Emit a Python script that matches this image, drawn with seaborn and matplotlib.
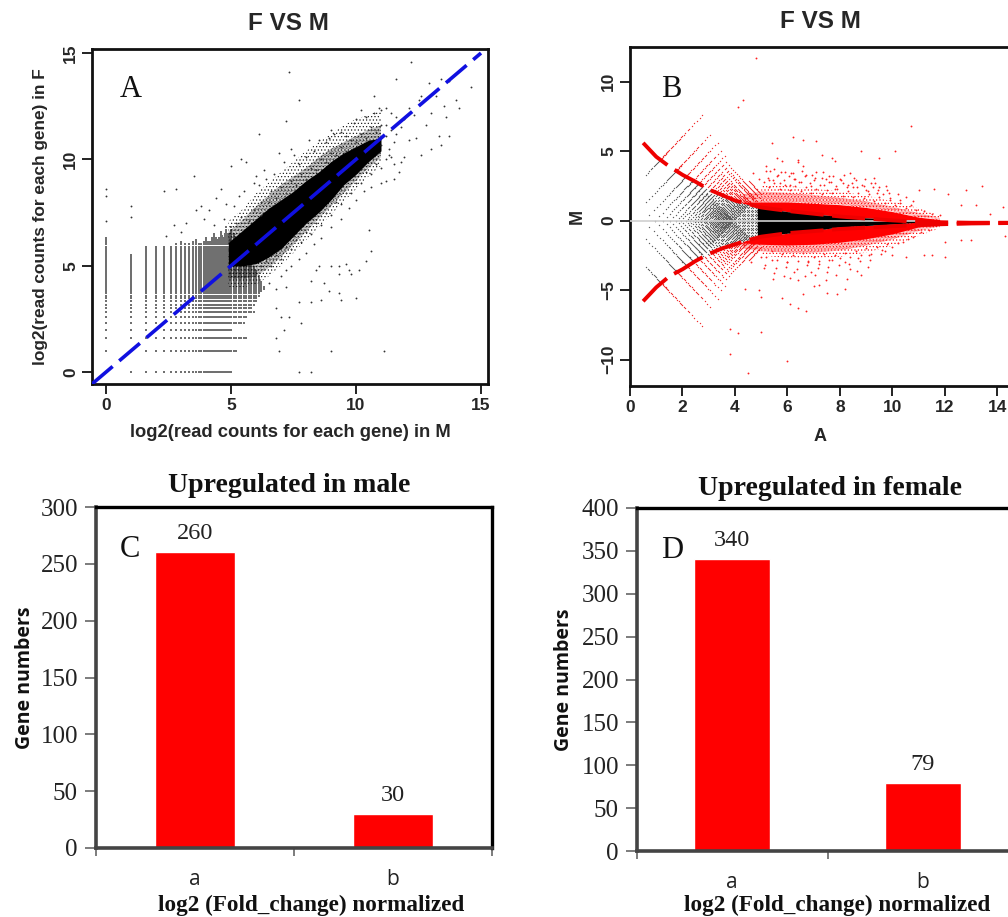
"""Four panel figure: F VS M scatter, MA plot and two gene count bar charts."""

import matplotlib
matplotlib.use("Agg")
import matplotlib.pyplot as plt
import numpy as np
import seaborn as sns

WIDTH, HEIGHT = 1008, 917
SANS = "Liberation Sans"
SERIF = "Liberation Serif"
HUMANIST = "Open Sans"

# Read counts take discrete log2 values at the low end
COUNT_LEVELS = [0, 1, 1.58, 2, 2.32, 2.58, 2.81, 3, 3.17, 3.32, 3.46, 3.58, 3.70, 3.81,
                3.91, 4, 4.09, 4.17, 4.25, 4.32, 4.39, 4.46, 4.52, 4.58, 4.64, 4.70,
                4.75, 4.81, 4.86, 4.91, 4.95, 5]
HIGH_X_LEVELS = [5.1, 5.2, 5.3, 5.4, 5.5, 5.6, 5.7, 5.8, 5.9, 6.0, 6.1, 6.2, 6.3, 6.5]
HIGH_Y_LEVELS = [5.05, 5.13, 5.21, 5.29, 5.36, 5.43, 5.5, 5.57, 5.64, 5.7, 5.77, 5.83,
                 5.9, 6.0, 6.1, 6.2, 6.3, 6.4, 6.5, 6.6, 6.7, 6.8]

# Upper extent of each count column, and right extent of each low count row (panel A)
COLUMN_X = [0, 1, 1.58, 2, 2.32, 2.58, 3, 3.32, 3.58, 3.81, 4, 4.17, 4.32, 4.46, 4.58, 4.7,
            4.81, 4.91, 5, 5.5, 6.0, 6.5]
COLUMN_TOP = [6.3, 5.5, 5.9, 5.9, 5.9, 5.9, 6.1, 6.0, 6.2, 6.0, 6.3, 6.1, 6.5, 6.2, 6.6, 6.3,
              6.8, 6.4, 6.8, 5.6, 4.8, 3.6]
ROW_Y = [0, 1, 1.58, 2, 2.32, 2.58, 2.81, 3, 3.32, 3.58, 4, 4.5, 5, 6.2]
ROW_RIGHT = [5.0, 5.2, 5.6, 5.0, 5.5, 5.6, 5.9, 5.8, 6.0, 6.1, 6.4, 6.5, 6.5, 6.5]

# Panel A dense cloud envelope
CLOUD_X = [4.9, 5.5, 6.0, 6.5, 7.0, 7.5, 8.0, 8.5, 9.0, 9.5, 10.0, 10.5, 11.0]
CLOUD_LOW = [5.0, 5.0, 5.1, 5.4, 5.8, 6.4, 7.0, 7.5, 8.1, 8.8, 9.3, 9.9, 10.4]
CLOUD_HIGH = [6.1, 6.7, 7.2, 7.7, 8.1, 8.5, 9.0, 9.4, 9.9, 10.3, 10.6, 10.9, 11.0]
NEAR_LOW = [4.4, 4.4, 4.5, 4.9, 5.4, 6.0, 6.6, 7.2, 7.8, 8.4, 9.0, 9.6, 10.1]
NEAR_HIGH = [6.6, 7.2, 7.8, 8.3, 8.8, 9.2, 9.6, 10.1, 10.5, 10.8, 11.1, 11.4, 11.6]
FRINGE_LOW = [4.0, 4.0, 4.1, 4.5, 5.0, 5.6, 6.2, 6.8, 7.4, 8.0, 8.6, 9.2, 9.7]
FRINGE_HIGH = [7.1, 7.7, 8.4, 8.9, 9.4, 9.9, 10.4, 10.8, 11.2, 11.6, 11.9, 12.1, 12.3]

# Panel A scattered points
SPARSE_X = [7.3, 12.2, 7.7, 7.2, 11.6, 6.1, 12.6, 12.9, 13.4, 13.7, 14.6, 13.2, 14.0, 13.5,
            13.0, 13.6, 14.1, 5.4, 5.0, 5.6, 3.5, 2.3, 2.8, 0, 0, 1, 1, 0, 8.5, 9.0, 9.3,
            9.6, 9.7, 10.1, 9.3, 9.8, 10.4, 10.6, 10.5, 8.4, 8.2, 8.7, 7.2, 8.9, 9.3, 8.6,
            9.4, 10.0, 7.7, 8.2, 6.8, 7.0, 7.3, 7.8, 7.1, 6.8, 6.9, 9.0, 11.1, 7.7, 8.2,
            4.6, 4.4, 4.8, 3.8, 4.1, 5.3, 5.5, 5.9, 6.1, 6.4, 6.7, 6.9, 7.1, 7.5, 7.7, 8.0,
            8.3, 8.5, 8.8, 8.9, 9.1, 9.4, 9.6, 9.9, 10.0, 10.4, 10.7, 10.9, 10.7, 11.0,
            11.2, 11.4, 11.6, 11.9, 12.1, 12.3, 12.5, 11.2, 11.6, 11.8, 12.1, 12.4, 12.6,
            13.3, 13.0, 12.8, 13.4, 13.7, 5.8, 6.5, 6.8, 7.0, 7.2, 7.4, 7.7, 8.0, 8.3, 8.6,
            9.0, 9.4, 9.7, 10.0, 10.3, 10.6, 11.0, 11.2, 11.5, 11.7, 11.5, 11.8, 11.9, 11.3,
            3.2, 2.7, 3.0, 2.4, 3.6, 3.9, 4.3, 4.7, 5.1, 6.3, 6.0, 7.4, 8.1, 9.0, 10.2]
SPARSE_Y = [14.1, 14.6, 12.8, 11.8, 13.8, 11.2, 13.0, 13.6, 13.8, 13.7, 13.4, 13.0, 12.8,
            12.5, 12.2, 12.0, 12.4, 10.0, 9.7, 9.9, 9.2, 8.5, 8.6, 8.6, 8.3, 7.8, 7.3, 7.1,
            5.0, 5.0, 5.0, 5.1, 4.8, 4.8, 4.6, 4.6, 5.2, 5.7, 6.7, 4.8, 4.3, 4.2, 4.0, 3.8,
            3.7, 3.4, 3.4, 3.5, 3.3, 3.3, 3.0, 2.6, 2.6, 2.3, 2.0, 1.6, 1.0, 1.0, 1.0, 0, 0,
            8.6, 8.2, 7.9, 7.8, 7.6, 8.3, 8.5, 8.9, 8.8, 9.1, 9.3, 10.3, 9.9, 10.2, 9.8,
            10.1, 10.4, 10.9, 10.8, 11.0, 11.2, 11.3, 11.1, 11.7, 11.9, 12.0, 12.2, 12.4,
            13.0, 12.3, 12.4, 12.2, 12.0, 11.9, 12.4, 12.1, 12.8, 11.6, 11.2, 11.5, 10.9,
            11.0, 10.2, 11.1, 10.5, 11.6, 10.7, 11.1, 4.5, 4.2, 3.9, 4.5, 4.8, 5.0, 5.3, 5.6,
            6.0, 6.3, 6.8, 7.2, 7.7, 8.1, 8.5, 8.7, 8.9, 9.0, 9.1, 9.4, 9.8, 9.9, 10.1, 10.2,
            7.0, 6.9, 6.6, 6.4, 7.6, 7.2, 6.9, 7.2, 7.8, 9.5, 9.2, 10.5, 10.9, 11.4, 12.3]
EDGE_X = [5.2, 5.4, 5.7, 5.9, 6.2, 6.2, 6.5, 6.6, 6.8, 7.0, 7.2, 7.4, 7.6, 7.8, 8.0, 8.2, 8.4,
          8.6, 8.8, 9.0, 9.2, 9.4, 9.6, 9.8, 10.0, 10.2, 10.4, 10.6, 10.8, 11.0, 11.2, 11.4,
          11.0, 11.3, 11.5, 6.2, 6.4, 6.6, 6.8, 7.0, 7.2, 7.4, 7.6, 7.8, 8.0, 8.2, 8.4, 8.6,
          8.8, 9.0, 9.2, 9.4, 9.6, 9.8, 10.0, 10.2, 10.4, 10.6, 10.8, 11.0, 11.2, 11.4]
EDGE_Y = [7.0, 7.3, 7.1, 7.6, 7.4, 8.0, 8.0, 8.5, 8.2, 8.7, 8.4, 9.0, 8.8, 9.3, 9.1, 9.6, 9.5,
          10.0, 9.9, 10.3, 10.2, 10.6, 10.4, 10.9, 10.8, 11.2, 11.0, 11.5, 11.3, 11.6, 11.1,
          11.4, 10.7, 10.5, 10.8, 5.0, 5.2, 5.0, 5.5, 5.3, 5.9, 5.8, 6.2, 6.1, 6.6, 6.5, 7.0,
          6.9, 7.5, 7.4, 8.0, 7.9, 8.4, 8.4, 8.9, 8.9, 9.4, 9.3, 9.8, 9.6, 10.0, 10.1]

# Panel A reference line
DIAGONAL = [-0.56, 15.0]

# Panel B fitted curves
CURVE_A = [0.5, 1, 1.5, 2, 2.5, 3, 3.5, 4, 4.5, 5, 6, 7, 8, 9, 10, 11, 12, 13, 14, 15.2]
CURVE_UP = [5.6, 4.6, 3.9, 3.3, 2.8, 2.25, 1.85, 1.45, 1.2, 0.95, 0.7, 0.5, 0.3, 0.15,
            0.02, -0.08, -0.12, -0.15, -0.15, -0.15]
CURVE_DOWN = [-5.8, -4.8, -4.0, -3.5, -2.9, -2.4, -2.0, -1.7, -1.4, -1.15, -0.9, -0.75,
              -0.6, -0.5, -0.4, -0.3, -0.25, -0.2, -0.18, -0.15]
COUNT_OFFSET = -1.05
HIGH_COUNT_LEVELS = [6.6, 6.8, 7.0, 7.2, 7.4, 7.6, 7.8, 8.0, 8.2, 8.4, 8.6, 8.8, 9.0]
# Outer reach of the diagonal count lines in panel B
REACH_A = [0.5, 2.7, 3.2, 3.7, 4.0, 4.5, 5.0]
REACH_M = [8.0, 7.8, 6.2, 4.4, 3.7, 2.9, 2.2]

# Panel B dense bands
CORE_A = [4.85, 5.5, 6.0, 7.0, 8.0, 9.0, 10.0, 11.0]
CORE_UP = [1.0, 0.8, 0.65, 0.48, 0.3, 0.2, 0.1, 0.0]
CORE_DOWN = [-1.1, -1.0, -0.9, -0.7, -0.45, -0.35, -0.25, -0.1]
RED_A = [4.3, 5.0, 6.0, 7.0, 8.0, 9.0, 10.0, 11.0, 11.8]
RED_INNER_UP = [1.25, 0.95, 0.65, 0.48, 0.3, 0.2, 0.1, 0.0, -0.05]
RED_INNER_DOWN = [-1.5, -1.15, -0.9, -0.7, -0.45, -0.35, -0.25, -0.1, -0.12]
RED_UP = [1.35, 1.35, 1.35, 1.25, 1.15, 0.95, 0.65, 0.25, 0.08]
RED_DOWN = [-1.6, -1.7, -1.75, -1.7, -1.55, -1.3, -0.95, -0.45, -0.3]
NEAR_UP = [1.9, 2.1, 2.0, 1.85, 1.65, 1.4, 1.0, 0.55, 0.2]
NEAR_DOWN = [-2.0, -2.2, -2.3, -2.3, -2.15, -1.8, -1.35, -0.75, -0.4]
HALO_UP = [2.5, 2.6, 2.5, 2.3, 2.1, 1.8, 1.4, 0.9, 0.35]
HALO_DOWN = [-2.4, -2.5, -2.7, -2.7, -2.6, -2.3, -1.8, -1.1, -0.55]

# Panel B scattered points
RED_SPARSE_A = [4.8, 4.3, 4.1, 6.0, 3.8, 4.5, 5.0, 3.8, 4.1, 10.7, 6.2, 6.6, 7.1, 5.4, 8.8,
                10.1, 9.5, 7.3, 7.7, 7.8, 6.4, 5.6, 6.4, 5.8, 13.4, 12.8, 12.1, 11.6, 11.0,
                12.6, 13.2, 14.2, 13.7, 14.5, 14.6, 14.3, 13.0, 12.6, 12.0, 12.0, 11.5, 11.2,
                10.5, 10.0, 8.4, 8.8, 7.5, 6.9, 7.2, 7.0, 6.7, 6.4, 6.1, 6.6, 7.5, 7.9, 8.2,
                5.0, 5.8, 4.9, 4.4, 5.5, 6.1, 6.4, 5.2, 5.6, 5.9, 6.3, 6.7, 7.0, 7.3, 7.6,
                8.0, 8.3, 8.6, 8.9, 9.2, 9.5, 9.8, 10.2, 10.5, 10.8, 5.3, 5.7, 6.1, 6.5, 6.9,
                7.4, 7.8, 8.1, 8.5, 9.0, 9.4, 9.9, 10.3, 5.0, 5.4, 6.0, 6.8, 7.2, 7.7, 8.2,
                8.7, 9.1, 9.7, 4.7, 4.9, 5.2, 5.5, 6.2, 6.6, 7.1, 7.6, 8.4, 9.3, 4.6, 5.1]
RED_SPARSE_M = [11.7, 8.7, 8.2, -10.1, -9.6, -11.0, -8.0, -7.8, -8.1, 6.8, 6.0, 5.8, 5.7, 5.6,
                5.0, 5.0, 4.5, 4.7, 4.5, 4.3, 4.4, 4.5, 4.2, 4.3, 2.5, 2.2, 1.9, 2.3, 2.2,
                1.1, 1.1, 1.0, 0.5, 0.6, -1.0, -1.1, -1.4, -1.4, -1.5, -2.6, -2.5, -2.5, -2.6,
                -2.5, -3.5, -3.9, -3.7, -3.7, -4.6, -4.7, -6.5, -6.3, -6.0, -5.3, -5.2, -5.3,
                -4.9, -5.5, -5.6, -5.0, -4.9, -3.8, -4.1, -4.3, 3.6, 3.2, 3.5, 3.0, 3.3, 2.9,
                3.1, 2.8, 3.0, 2.6, 2.9, 2.5, 2.7, 2.4, 2.2, 1.9, 1.7, 1.4, 2.9, 2.7, 2.6,
                2.8, 2.5, 2.6, 2.3, 2.7, 2.4, 2.2, 2.0, 1.6, 1.5, -2.6, -2.8, -3.0, -2.9, -3.1,
                -2.8, -3.0, -2.7, -2.5, -2.2, 3.4, 3.0, 3.9, 3.7, 3.4, 3.9, 3.5, 3.2, 3.4, 3.1,
                -3.0, -3.4]
RED_EDGE_A = [5.1, 5.3, 5.5, 5.7, 5.9, 6.1, 6.3, 6.5, 6.7, 6.9, 7.1, 7.3, 7.5, 7.7, 7.9, 8.1,
              8.3, 8.5, 8.7, 8.9, 9.1, 9.3, 9.5, 9.7, 9.9, 10.1, 10.3, 10.5, 10.7, 10.9, 11.2,
              11.5, 11.8, 5.2, 5.4, 5.6, 5.8, 6.0, 6.2, 6.4, 6.6, 6.8, 7.0, 7.2, 7.4, 7.6, 7.8,
              8.0, 8.2, 8.4, 8.6, 8.8, 9.0, 9.2, 9.4, 9.6, 9.8, 10.0, 10.2, 10.4, 10.6, 10.8,
              11.1, 11.4]
RED_EDGE_M = [2.8, 2.4, 2.7, 2.3, 2.6, 2.2, 2.5, 2.1, 2.4, 2.0, 2.3, 1.9, 2.2, 2.0, 2.3, 1.8,
              2.1, 1.7, 2.0, 1.6, 1.9, 1.4, 1.7, 1.3, 1.5, 1.1, 1.3, 0.9, 1.1, 0.8, 0.7, 0.5,
              0.4, -2.6, -2.2, -2.8, -2.4, -3.0, -2.5, -2.9, -2.3, -3.0, -2.6, -2.9, -2.4, -2.8,
              -2.5, -2.7, -2.3, -2.6, -2.2, -2.5, -2.0, -2.4, -1.9, -2.1, -1.7, -1.9, -1.6,
              -1.5, -1.3, -1.2, -0.8, -0.7]
RED_MID_A = [5.25, 5.45, 5.65, 5.85, 6.05, 6.25, 6.45, 6.65, 6.85, 7.05, 7.25, 7.45, 7.65, 7.85,
             8.05, 8.25, 8.45, 8.65, 8.85, 9.05, 9.25, 9.45, 9.65, 9.85, 5.35, 5.75, 6.15, 6.55,
             6.95, 7.35, 7.75, 8.15, 8.55, 8.95, 9.35, 9.75, 5.15, 5.55, 5.95, 6.35, 6.75, 7.15,
             7.55, 7.95, 8.35, 8.75, 9.15, 9.55, 5.45, 5.85, 6.25, 6.65, 7.05, 7.45, 7.85, 8.25,
             8.65, 9.05]
RED_MID_M = [3.1, 2.9, 3.3, 2.9, 3.2, 3.0, 2.8, 3.2, 2.7, 3.1, 2.6, 3.0, 2.8, 2.5, 2.9, 2.4,
             2.7, 2.4, 2.6, 2.1, 2.4, 2.2, 1.9, 2.0, 3.6, 3.5, 3.4, 3.6, 3.3, 3.5, 3.2, 3.3,
             3.1, 3.0, 2.7, 2.5, -3.2, -3.4, -3.3, -3.5, -3.2, -3.4, -3.3, -3.2, -3.1, -2.9,
             -2.8, -2.4, -4.2, -4.0, -3.7, -4.0, -3.9, -4.3, -3.9, -4.2, -3.6, -3.3]

# Bar panels
BAR_CATEGORIES = ["a", "b"]
MALE_COUNTS = [260, 30]
FEMALE_COUNTS = [340, 79]
MALE_TICKS = [0, 50, 100, 150, 200, 250, 300]
FEMALE_TICKS = [0, 50, 100, 150, 200, 250, 300, 350, 400]


def px_axes(fig, left, top, right, bottom):
    """Add an axes placed by its pixel edges, measured from the top left of the image."""
    return fig.add_axes([left / WIDTH, 1 - bottom / HEIGHT,
                         (right - left) / WIDTH, (bottom - top) / HEIGHT])


def style_r_axes(ax):
    """Heavy R style frame with bold rotated tick labels."""
    for spine in ax.spines.values():
        spine.set_linewidth(2.0)
        spine.set_color("#111111")
    ax.tick_params(axis="both", length=7, width=1.4, labelsize=12.5, pad=3, color="#222222")
    for label in ax.get_xticklabels() + ax.get_yticklabels():
        label.set_fontfamily(SANS)
        label.set_fontweight("bold")
    for label in ax.get_yticklabels():
        label.set_rotation(90)
        label.set_verticalalignment("center")


def panel_a(fig):
    ax = px_axes(fig, 92, 49, 488, 384)

    # Lattice of low counts
    xs, ys = [], []
    for x in COUNT_LEVELS + HIGH_X_LEVELS:
        for y in COUNT_LEVELS + HIGH_Y_LEVELS:
            if y <= np.interp(x, COLUMN_X, COLUMN_TOP) and x <= np.interp(y, ROW_Y, ROW_RIGHT):
                if x <= y + 3.2 or y <= 3:
                    xs.append(x)
                    ys.append(y)
    sns.scatterplot(x=xs, y=ys, ax=ax, color="#707070", s=0.8, linewidth=0, marker="s", zorder=2)

    ax.fill_between(CLOUD_X, FRINGE_LOW, FRINGE_HIGH, facecolor="none", edgecolor="#111111",
                    hatch=".....", linewidth=0, zorder=2)
    ax.fill_between(CLOUD_X, NEAR_LOW, NEAR_HIGH, facecolor="none", edgecolor="black",
                    hatch="............", linewidth=0, zorder=2)
    ax.fill_between(CLOUD_X, CLOUD_LOW, CLOUD_HIGH, color="black", linewidth=0, zorder=3)
    sns.scatterplot(x=SPARSE_X, y=SPARSE_Y, ax=ax, color="#333333", s=1.8, linewidth=0, zorder=3)
    sns.scatterplot(x=EDGE_X, y=EDGE_Y, ax=ax, color="#333333", s=1.8, linewidth=0, zorder=3)
    sns.lineplot(x=DIAGONAL, y=DIAGONAL, ax=ax, color="#1010e0", linewidth=2.6, zorder=4,
                 dashes=(7.5, 2.4), estimator=None, sort=False)

    ax.set_xlim(-0.56, 15.28)
    ax.set_ylim(-0.56, 15.19)
    ax.set_xticks([0, 5, 10, 15])
    ax.set_yticks([0, 5, 10, 15])
    style_r_axes(ax)

    ax.set_title("F VS M", fontfamily=SANS, fontweight="bold", fontsize=17.5, x=0.497, y=1.032)
    ax.set_xlabel("log2(read counts for each gene) in M", fontfamily=SANS, fontweight="bold",
                  fontsize=13.2)
    ax.xaxis.set_label_coords(0.5, -0.12)
    ax.set_ylabel("log2(read counts for each gene) in F", fontfamily=SANS, fontweight="bold",
                  fontsize=12.4)
    ax.yaxis.set_label_coords(-0.11, 0.5)
    ax.text(0.098, 0.88, "A", transform=ax.transAxes, fontfamily=SERIF, fontsize=22,
            ha="center", va="center", color="#111111")


def panel_b(fig):
    ax = px_axes(fig, 630, 47, 1030, 386)

    # MA transform of the count lattice
    levels = np.array(COUNT_LEVELS + HIGH_X_LEVELS) + COUNT_OFFSET
    tall = np.array(COUNT_LEVELS + HIGH_X_LEVELS + HIGH_COUNT_LEVELS) + COUNT_OFFSET
    ma_a, ma_m = [], []
    for low in levels:
        for high in tall:
            a = (low + high) / 2
            m = high - low
            if m < 0 or a < 0.55 or a > 5.05 or m > np.interp(a, REACH_A, REACH_M):
                continue
            ma_a.extend([a, a])
            ma_m.extend([m, -m])
    ma_a = np.array(ma_a)
    ma_m = np.array(ma_m)
    is_red = (ma_m > np.interp(ma_a, CURVE_A, CURVE_UP)) | (ma_m < np.interp(ma_a, CURVE_A, CURVE_DOWN))
    sns.scatterplot(x=ma_a[~is_red], y=ma_m[~is_red], ax=ax, color="#606060", s=1.0, linewidth=0,
                    zorder=2)
    sns.scatterplot(x=ma_a[is_red], y=ma_m[is_red], ax=ax, color="#f03030", s=1.0, linewidth=0,
                    zorder=2)

    ax.fill_between(RED_A, HALO_DOWN, HALO_UP, where=[a >= 4.9 for a in RED_A], facecolor="none",
                    edgecolor="#ff0000", hatch=".....", linewidth=0, zorder=2)
    ax.fill_between(RED_A, RED_DOWN, NEAR_DOWN, facecolor="none", edgecolor="#ff0000",
                    hatch="............", linewidth=0, zorder=2)
    ax.fill_between(RED_A, RED_UP, NEAR_UP, facecolor="none", edgecolor="#ff0000",
                    hatch="............", linewidth=0, zorder=2)
    ax.fill_between(RED_A, RED_INNER_UP, RED_UP, color="#ff0000", linewidth=0, zorder=3)
    ax.fill_between(RED_A, RED_DOWN, RED_INNER_DOWN, color="#ff0000", linewidth=0, zorder=3)
    ax.fill_between(CORE_A, CORE_DOWN, CORE_UP, color="black", linewidth=0, zorder=4)
    sns.lineplot(x=[0.0, 11.0], y=[0.0, 0.0], ax=ax, color="#d0d0d0", linewidth=1.2, zorder=5)
    for a_values, m_values in ((RED_SPARSE_A, RED_SPARSE_M), (RED_EDGE_A, RED_EDGE_M),
                               (RED_MID_A, RED_MID_M)):
        sns.scatterplot(x=a_values, y=m_values, ax=ax, color="#ff2020", s=1.8, linewidth=0,
                        zorder=3)
    for curve in (CURVE_UP, CURVE_DOWN):
        sns.lineplot(x=CURVE_A, y=curve, ax=ax, color="#ee0000", linewidth=2.8, zorder=6,
                     dashes=(8.5, 2.2), estimator=None, sort=False)

    ax.set_xlim(0, 15.24)
    ax.set_ylim(-11.9, 12.5)
    ax.set_xticks(range(0, 15, 2))
    ax.set_yticks([-10, -5, 0, 5, 10])
    style_r_axes(ax)

    ax.set_title("F VS M", fontfamily=SANS, fontweight="bold", fontsize=17.5, x=0.475, y=1.03)
    ax.set_xlabel("A", fontfamily=SANS, fontweight="bold", fontsize=13)
    ax.xaxis.set_label_coords(0.475, -0.124)
    ax.set_ylabel("M", fontfamily=SANS, fontweight="bold", fontsize=13)
    ax.yaxis.set_label_coords(-0.11, 0.5)
    ax.text(0.103, 0.875, "B", transform=ax.transAxes, fontfamily=SERIF, fontsize=22,
            ha="center", va="center", color="#111111")


def bar_panel(fig, box, counts, ticks, top, title, letter, title_x, title_y, letter_xy,
              ylabel_x, xlabel_xy):
    ax = px_axes(fig, *box)
    sns.barplot(x=BAR_CATEGORIES, y=counts, ax=ax, color="#ff0000", width=0.4, saturation=1,
                zorder=2)
    ax.bar_label(ax.containers[0], padding=6, fontfamily=SERIF, fontsize=17.5, color="#222222")

    ax.set_xlim(-0.5, 1.5)
    ax.set_ylim(0, top)
    ax.set_yticks(ticks)
    ax.set_xticks([-0.5, 0.5, 1.5])
    ax.set_xticklabels(["", "", ""])
    ax.set_xticks([0, 1], labels=BAR_CATEGORIES, minor=True)
    ax.tick_params(axis="x", which="minor", length=0, pad=15, labelsize=15, labelcolor="#222222")
    ax.tick_params(axis="x", which="major", length=6, width=1.2, color="#666666")
    ax.tick_params(axis="y", length=8, width=1.2, color="#666666", labelsize=18, pad=5,
                   labelcolor="#222222")
    for label in ax.get_yticklabels():
        label.set_fontfamily(SERIF)
    for label in ax.get_xminorticklabels():
        label.set_fontfamily(HUMANIST)

    ax.spines["top"].set_linewidth(2.4)
    ax.spines["right"].set_linewidth(2.4)
    ax.spines["top"].set_color("black")
    ax.spines["right"].set_color("black")
    ax.spines["left"].set_linewidth(2.6)
    ax.spines["bottom"].set_linewidth(2.6)
    ax.spines["left"].set_color("#444444")
    ax.spines["bottom"].set_color("#444444")

    ax.set_title(title, fontfamily=SERIF, fontweight="bold", fontsize=20, x=title_x, y=title_y,
                 color="#111111")
    ax.set_xlabel("log2 (Fold_change) normalized", fontfamily=SERIF, fontweight="bold",
                  fontsize=16.7, color="#111111")
    ax.xaxis.set_label_coords(*xlabel_xy)
    ax.set_ylabel("Gene numbers", fontfamily=HUMANIST, fontweight="bold", fontsize=14,
                  color="#111111")
    ax.yaxis.set_label_coords(ylabel_x, 0.5)
    ax.text(*letter_xy, letter, transform=ax.transAxes, fontfamily=SERIF, fontsize=22,
            ha="center", va="center", color="#111111")


def main():
    sns.set_theme(style="ticks", context="notebook")
    plt.rcParams["hatch.linewidth"] = 0.45
    fig = plt.figure(figsize=(WIDTH / 100, HEIGHT / 100), dpi=100, facecolor="white")

    panel_a(fig)
    panel_b(fig)
    bar_panel(fig, (96, 507, 492, 848), MALE_COUNTS, MALE_TICKS, 300, "Upregulated in male", "C",
              0.489, 1.02, (0.085, 0.875), -0.155, (0.543, -0.136))
    bar_panel(fig, (637, 508, 1018, 851), FEMALE_COUNTS, FEMALE_TICKS, 400, "Upregulated in female",
              "D", 0.507, 1.015, (0.092, 0.875), -0.165, (0.525, -0.128))

    fig.savefig("out.png", dpi=100)
    plt.close(fig)


if __name__ == "__main__":
    main()
